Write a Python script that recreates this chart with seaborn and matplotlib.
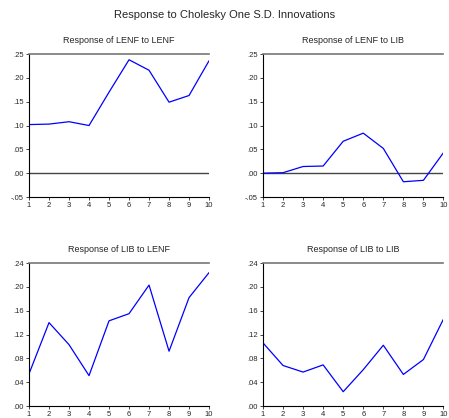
import pandas as pd
import matplotlib
matplotlib.use("Agg")
import matplotlib.pyplot as plt
from matplotlib.ticker import FuncFormatter
import seaborn as sns

periods = [1, 2, 3, 4, 5, 6, 7, 8, 9, 10]
lenf_to_lenf = [0.102, 0.103, 0.108, 0.100, 0.170, 0.238, 0.216, 0.149, 0.163, 0.236]
lenf_to_lib = [0.000, 0.001, 0.014, 0.015, 0.067, 0.084, 0.052, -0.018, -0.015, 0.043]
lib_to_lenf = [0.054, 0.140, 0.103, 0.051, 0.143, 0.155, 0.203, 0.092, 0.182, 0.224]
lib_to_lib = [0.106, 0.068, 0.057, 0.069, 0.024, 0.061, 0.102, 0.053, 0.078, 0.146]

titles = ["Response of LENF to LENF", "Response of LENF to LIB",
          "Response of LIB to LENF", "Response of LIB to LIB"]
series = [lenf_to_lenf, lenf_to_lib, lib_to_lenf, lib_to_lib]

sns.set_style("white")
plt.rcParams['font.family'] = ['Liberation Sans', 'DejaVu Sans']


def fmt(v, pos):
    s = "%.2f" % v
    if s.startswith("0"):
        s = s[1:]
    elif s.startswith("-0"):
        s = "-" + s[2:]
    return s


fig = plt.figure(figsize=(4.49, 4.18), dpi=100)
fig.suptitle("Response to Cholesky One S.D. Innovations", fontsize=8, y=0.977)

# axes boxes (left, bottom, width, height)
boxes = [[0.0646, 0.5287, 0.401, 0.342],
         [0.5857, 0.5287, 0.402, 0.342],
         [0.0646, 0.0287, 0.401, 0.342],
         [0.5857, 0.0287, 0.402, 0.342]]

for i in range(4):
    ax = fig.add_axes(boxes[i])
    df = pd.DataFrame({"period": periods, "value": series[i]})
    sns.lineplot(data=df, x="period", y="value", ax=ax, color="#0000ff", linewidth=0.9)
    if i < 2:
        ax.set_ylim(-0.05, 0.25)
        ax.set_yticks([-0.05, 0.00, 0.05, 0.10, 0.15, 0.20, 0.25])
        ax.axhline(0, color="#444444", linewidth=1.0, zorder=1)
    else:
        ax.set_ylim(0.0, 0.24)
        ax.set_yticks([0.00, 0.04, 0.08, 0.12, 0.16, 0.20, 0.24])
    ax.set_xlim(1, 10)
    ax.set_xticks(periods)
    ax.yaxis.set_major_formatter(FuncFormatter(fmt))
    ax.set_xlabel("")
    ax.set_ylabel("")
    ax.set_title(titles[i], fontsize=6.5, pad=8)
    ax.spines["right"].set_visible(False)
    ax.spines["top"].set_color("#777777")
    ax.spines["top"].set_linewidth(1.2)
    ax.spines["left"].set_linewidth(0.8)
    ax.spines["bottom"].set_linewidth(0.8)
    ax.spines["left"].set_color("black")
    ax.spines["bottom"].set_color("black")
    ax.tick_params(axis="both", which="major", direction="out", length=2.5,
                   width=0.6, labelsize=5.5, pad=1, left=True, bottom=True)

fig.savefig("out.png", dpi=100)
